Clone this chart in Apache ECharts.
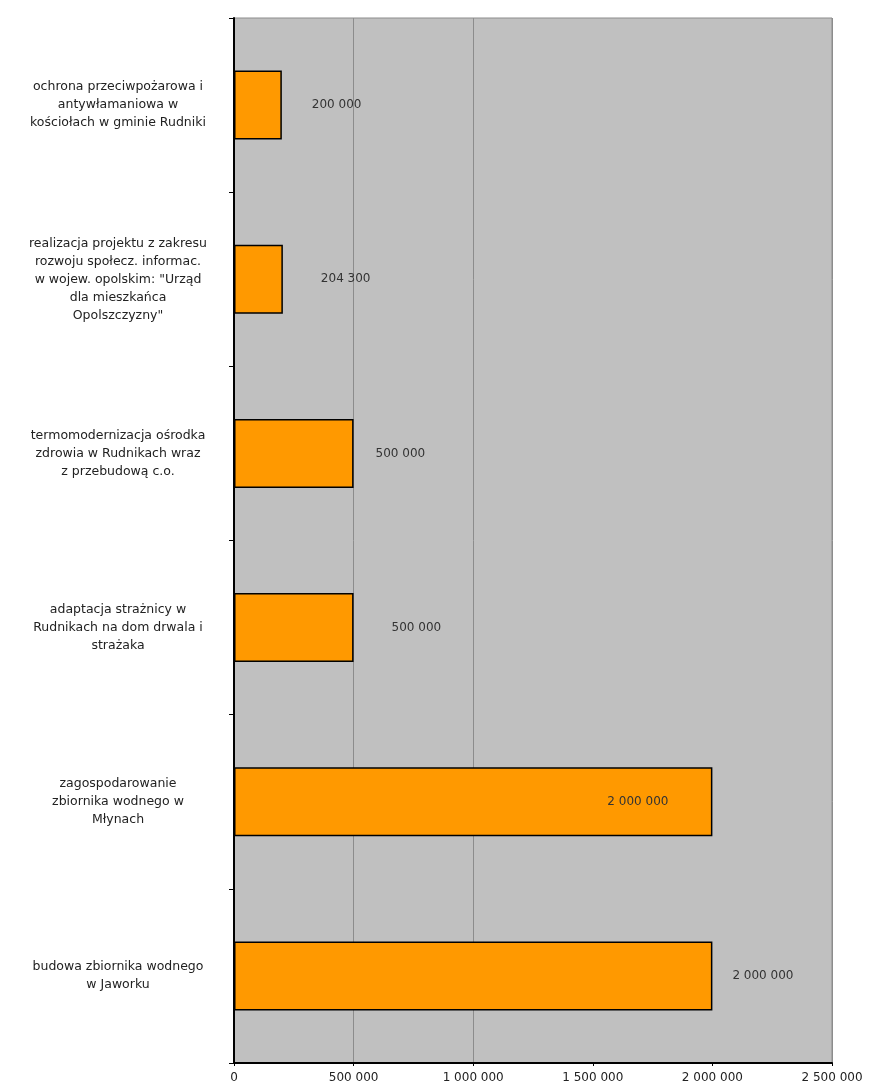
<!DOCTYPE html>
<html><head><meta charset="utf-8">
<script src="https://cdn.jsdelivr.net/npm/echarts@6/dist/echarts.min.js"></script>
<style>html,body{margin:0;padding:0;background:#fff}#c{width:870px;height:1092px}</style>
</head><body><div id="c"></div>
<script>
const categories = [
  "ochrona przeciwpożarowa i\nantywłamaniowa w\nkościołach w gminie Rudniki",
  "realizacja projektu z zakresu\nrozwoju społecz. informac.\nw wojew. opolskim: \"Urząd\ndla mieszkańca\nOpolszczyzny\"",
  "termomodernizacja ośrodka\nzdrowia w Rudnikach wraz\nz przebudową c.o.",
  "adaptacja strażnicy w\nRudnikach na dom drwala i\nstrażaka",
  "zagospodarowanie\nzbiornika wodnego w\nMłynach",
  "budowa zbiornika wodnego\nw Jaworku"
];
const values = [200000, 204300, 500000, 500000, 2000000, 2000000];
const valueLabels = ["200 000", "204 300", "500 000", "500 000", "2 000 000", "2 000 000"];
const xTicks = [0, 500000, 1000000, 1500000, 2000000, 2500000];
const xTickLabels = ["0", "500 000", "1 000 000", "1 500 000", "2 000 000", "2 500 000"];

const labelCfg = [
  {position:'right', distance:30},
  {position:'right', distance:38},
  {position:'right', distance:22},
  {position:'right', distance:38},
  {position:'insideRight', distance:44},
  {position:'right', distance:20}
];

const chart = echarts.init(document.getElementById('c'), null, {renderer:'canvas'});
const fontFamily = '"DejaVu Sans", "Liberation Sans", sans-serif';
chart.setOption({
  animation: false,
  grid: {left:234, right:38, top:18, bottom:29, show:true, backgroundColor:'#c0c0c0', borderColor:'#8c8c8c', borderWidth:1},
  xAxis: {
    type:'value', min:0, max:2500000, interval:500000,
    axisLine:{show:true, lineStyle:{color:'#000', width:2}},
    axisTick:{show:true, length:3, lineStyle:{color:'#000'}},
    axisLabel:{fontFamily, fontSize:12, color:'#222', margin:9,
      formatter:(v)=>{const i=xTicks.indexOf(v); return i>=0?xTickLabels[i]:'';}},
    splitLine:{show:true, lineStyle:{color:['rgba(0,0,0,0)','#8c8c8c','#8c8c8c','rgba(0,0,0,0)','rgba(0,0,0,0)','#8c8c8c'], width:1}}
  },
  yAxis: {
    type:'category', data:categories, inverse:true,
    axisLine:{show:true, lineStyle:{color:'#000', width:2}},
    axisTick:{show:true, length:5, lineStyle:{color:'#000'}},
    axisLabel:{fontFamily, fontSize:12.5, color:'#222', margin:116, align:'center', lineHeight:18},
    splitLine:{show:false}
  },
  series: [{
    type:'bar',
    data: values.map((v,i)=>({value:v, label:{show:true, position:labelCfg[i].position, distance:labelCfg[i].distance,
      formatter:valueLabels[i], fontFamily, fontSize:12, color:'#333'}})),
    barWidth: 69,
    itemStyle:{color:'#ff9900', borderColor:'#000', borderWidth:1.5}
  }]
});
</script>
</body></html>
